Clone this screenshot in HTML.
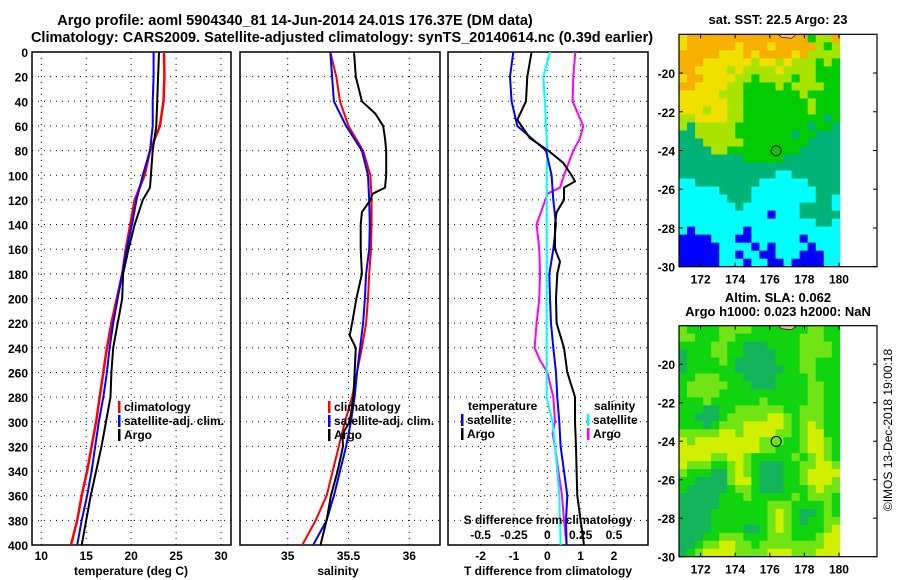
<!DOCTYPE html>
<html><head><meta charset="utf-8"><style>
html,body{margin:0;padding:0;background:#fff;}
svg{display:block;font-family:"Liberation Sans",sans-serif;}
.t{font-weight:bold;font-size:12px;fill:#000;}
.h{font-weight:bold;font-size:13px;fill:#000;}
.hh{font-weight:bold;font-size:14.5px;fill:#000;}
</style></head><body>
<svg id="fig" width="900" height="580" viewBox="0 0 900 580" xmlns="http://www.w3.org/2000/svg">
<text class="hh" x="295" y="25" text-anchor="middle">Argo profile: aoml 5904340_81 14-Jun-2014 24.01S 176.37E (DM data)</text>
<text class="hh" x="342" y="42" text-anchor="middle">Climatology: CARS2009. Satellite-adjusted climatology: synTS_20140614.nc (0.39d earlier)</text>
<text class="h" x="778" y="24" text-anchor="middle">sat. SST: 22.5 Argo: 23</text>
<text class="h" x="778" y="302" text-anchor="middle">Altim. SLA: 0.062</text>
<text class="h" x="778" y="316" text-anchor="middle">Argo h1000: 0.023 h2000: NaN</text>
<text x="892" y="430" font-size="12" text-anchor="middle" transform="rotate(-90 892 430)">©IMOS 13-Dec-2018 19:00:18</text>
<g id="g1"></g>
<g id="g2"></g>
<g id="g3"></g>
<g id="m1"></g>
<g id="m2"></g>
</svg>
<script>
// ---- data ----
const depths = [0,20,40,60,80,100,120,140,160,180,200,220,240,260,280,300,320,340,360,380,400];
const depthTicks = [0,20,40,60,80,100,120,140,160,180,200,220,240,260,280,300,320,340,360,380,400];
const tempTicks = [10,15,20,25,30];
const salTicks = [35,35.5,36];
const tdiffTicks = [-2,-1,0,1,2];
const sdiffTicks = [-0.5,-0.25,0,0.25,0.5];
const sdiffTickLabels = ["-0.5","-0.25","0","0.25","0.5"];

const tempClim = [23.66,23.7,23.6,23.2,22.1,21.5,20.4,19.9,19.4,19.0,18.4,17.8,17.3,16.9,16.5,16.1,15.6,15.1,14.5,14.0,13.3];
const tempSat  = [22.5,22.5,22.4,22.4,22.1,21.3,20.6,20.1,19.5,19.0,18.5,18.0,17.6,17.3,16.9,16.4,16.0,15.6,15.1,14.5,14.0];
const argoTempDepths = [0,20,40,60,80,100,110,120,140,160,180,200,220,240,260,280,300,320,340,360,380,400];
const tempArgo = [23.1,23.0,22.9,22.8,22.4,22.2,22.1,21.3,20.4,19.7,19.1,19.0,18.5,18.0,17.8,17.7,17.2,16.7,16.1,15.5,15.0,14.5];

const salClim = [35.35,35.40,35.43,35.50,35.62,35.68,35.69,35.69,35.685,35.67,35.66,35.645,35.61,35.57,35.53,35.47,35.42,35.37,35.32,35.23,35.12];
const salSat  = [35.35,35.365,35.38,35.48,35.61,35.66,35.67,35.675,35.67,35.645,35.635,35.62,35.595,35.57,35.55,35.52,35.48,35.43,35.38,35.32,35.21];
const argoSalDepths = [0,20,40,50,60,70,80,100,110,115,120,130,140,160,180,200,220,230,240,260,280,300,310,320,340,360,380,400];
const salArgo = [35.545,35.56,35.61,35.72,35.785,35.80,35.81,35.81,35.80,35.70,35.68,35.61,35.60,35.60,35.61,35.565,35.53,35.51,35.56,35.55,35.54,35.51,35.45,35.455,35.41,35.355,35.32,35.27];

const tdiffSat = [-1.02,-1.12,-1.07,-0.9,-0.04,0.13,0.18,0.26,0.18,0.06,0.08,0.11,0.18,0.26,0.3,0.36,0.4,0.5,0.6,0.56,0.58];
const argoTdDepths = [0,20,40,55,70,80,90,100,105,110,120,130,140,160,170,180,200,220,240,260,280,300,320,340,360,380,400];
const tdiffArgo = [-0.47,-0.6,-0.64,-0.9,-0.52,0.03,0.48,0.73,0.83,0.5,0.5,0.28,0.23,0.23,0.38,0.3,0.26,0.28,0.5,0.6,0.83,0.83,0.86,0.88,0.9,1.0,1.1];
const sdiffSat = [0.02,-0.03,-0.018,-0.01,0,-0.005,-0.005,-0.005,-0.005,-0.005,-0.005,-0.005,-0.005,-0.005,-0.005,0.04,0.058,0.075,0.09,0.095,0.1];
const argoSdDepths = [0,20,40,60,70,80,100,110,115,120,140,160,180,200,220,240,250,260,280,300,310,320,340,360,380,400];
const sdiffArgo = [0.21,0.195,0.19,0.27,0.245,0.195,0.125,0.095,0,-0.015,-0.08,-0.06,-0.055,-0.06,-0.08,-0.095,-0.055,0,0.045,0.058,0.04,0.058,0.083,0.11,0.125,0.145];

const latTicks = [-20,-22,-24,-26,-28,-30];
const lonTicks = [172,174,176,178,180];
const argoLon = 176.37, argoLat = -24.01;
const sstRows = [
"YOOOOOOOOOOOOOOOGLLO","YOOOOOOYOOOYOOOOOLGL","OOOOOYYYOYOOOOYOLLLL","OOOYYYYYYLYYLYLLLGLG",
"OOYYYYLYLLLLYLLLLGGG","YOOYYYYLLGLLLLGLLGGG","OOYYYYLLGGGGLGLLLLGG","YYYYYLLLGGGGGGGLGGGG",
"YYYYYYLLGGGGGGGGLGGG","YYYLYYLLGGGGGGGGLGGG","LLYYYYLLGGGGGGGGGGTG","LTLLLLLGGGGGGGGGTGGT",
"TTLLLLLGGGGGGGTGGTTT","TTTLLLLLGGGGGGGGTTTT","TTTTLLGGGGGGGGGTTTTT","TTTTTTTTGGGGGTTTTTTT",
"TTTTTTTTTTTTTTTTTTTT","TTTTTTTTTTTTCCTTTTTT","CCTTTTTTTTCCCCCCTTTT","CCCCCTTTTCCCCCCCCTTT",
"CCCCCCTTTCCCCCCCCTTC","CCCCCCCTCCCCCCCTTTTC","CCCCCCCCCCCBCCCTTTTT","CCCCCCCCCCCCCCCCCTTC",
"CBCCCCCCBCCCCCCCCCCC","BBBBCCCBBCCCCCCBCCCC","BBBBBCCCCBCBCCCCBCCC","BBBBBCCBCCBBCCCBBBCC",
"BBBBBCCCBCCBBCBBBBCC"];
const slaRows = [
"LGGGGLLLLGGGGGGGLLGG","LLGGGLLGGGGGGGGLLLGG","GGGGLLGGDDDGGGGLLLLG","DGGGLLGGDDDDGGGLLLLG",
"DGGGGLGDDDDDGGGLLGGG","DGGGGGGDDDDDDGGLLGGG","GGLLLGGGDDDDGGGGLGGG","GLLLLLGGGDDDGGGGLLGG",
"GLLLLGGGGGGGGGGGLLGG","GGGLGGGGGGLGGGGGLLGG","GGGDDGGLLLLLLGGLLLGG","GGDDDGLLLLLYYLGLLLGG",
"GGGDGLLLYYYYYLGLYLGG","LLLLLYYLYYYYLLGLYYGG","YLYYYYYYYYLLLGGLYYLG","YYYYYYYYYYLLGGGLYYLG",
"YYYYLLYYLGGGGGLGLYLG","YLLLGGLYLGDDDGGLLYYL","LGGGDDLYLGDDDGGLYYYY","GGDDDDLYYGDDDGGLYYYL",
"GDDDDDGLLGDDDGGGLYLL","DDDDDGGGLGGGGGLGLLLG","DDDDDGGGGGGLLLGGGGLG","DDDDGGGGGGGLYLGDDGLG",
"DDDDGGGGGGGLYLGDGGLL","DDDDGGGGDDGLYLGGGGLY","DDDGGLLLGGGLLLGGGLYY","DDGLLYYLLGLLLLLLLLYY",
"DGLYYYYLLLLYYYLLLYYY"];
</script>
<script>
const NS="http://www.w3.org/2000/svg";
function mk(p,tag,at){const e=document.createElementNS(NS,tag);for(const k in at)e.setAttribute(k,at[k]);p.appendChild(e);return e;}
const Y0=52,Y1=545;
function yD(d){return Y0+(d/400)*(Y1-Y0);}
function lin(d0,d1,r0,r1){return v=>r0+(v-d0)/(d1-d0)*(r1-r0);}

function frame(g,x0,x1,xt,xs,xlabels){
  mk(g,'rect',{x:x0,y:Y0,width:x1-x0,height:Y1-Y0,fill:'#fff',stroke:'none'});
  depthTicks.forEach(d=>{const l=mk(g,'line',{x1:x0,x2:x1,y1:yD(d),y2:yD(d),stroke:'#000','stroke-width':1,'stroke-dasharray':'1,5'});
    
    });
  xt.forEach((v,i)=>{const x=xs(v);const l=mk(g,'line',{x1:x,x2:x,y1:Y0,y2:Y1,stroke:'#000','stroke-width':1,'stroke-dasharray':'1,5'});
    
    
    const t=mk(g,'text',{x:x,y:560,'text-anchor':'middle',class:'t'});t.textContent=xlabels?xlabels[i]:String(v);
    
    });
  const r=mk(g,'rect',{x:x0,y:Y0,width:x1-x0,height:Y1-Y0,fill:'none',stroke:'#000','stroke-width':1.5});
  
  
}
function series(g,ds,vs,xs,color,w,name){
  const pts=ds.map((d,i)=>xs(vs[i]).toFixed(1)+','+yD(d).toFixed(1)).join(' ');
  const p=mk(g,'polyline',{points:pts,fill:'none',stroke:color,'stroke-width':w,'stroke-linejoin':'round'});
  
  
}
function txt(g,x,y,s,name,anchor){const t=mk(g,'text',{x:x,y:y,class:'t','text-anchor':anchor||'start'});t.textContent=s;
  
  return t;}
function legBar(g,x,y,color,name){const r=mk(g,'rect',{x:x,y:y-10,width:2.5,height:12,fill:color});
  
  }

// Panel 1
const g1=document.getElementById('g1');
const xT=lin(10,30,41.3,221);
frame(g1,32,231,tempTicks,xT);
depthTicks.forEach(d=>txt(g1,28,yD(d)+5,String(d),'y-tick-label','end'));
series(g1,depths,tempClim,xT,'#f00',2.5,'temp-climatology-line');
series(g1,depths,tempSat,xT,'#00f',2,'temp-satellite-line');
series(g1,argoTempDepths,tempArgo,xT,'#000',2,'temp-argo-line');
txt(g1,131,575,'temperature (deg C)','x-axis-title','middle');
[['climatology','#f00'],['satellite-adj. clim.','#00f'],['Argo','#000']].forEach((e,i)=>{legBar(g1,118,411+i*14,e[1],'legend-swatch');txt(g1,124,411+i*14,e[0],'legend-entry');});

// Panel 2
const g2=document.getElementById('g2');
const xS=lin(35,36,287.7,409.3);
frame(g2,240,440,salTicks,xS);
series(g2,depths,salClim,xS,'#f00',2,'sal-climatology-line');
series(g2,depths,salSat,xS,'#00f',2,'sal-satellite-line');
series(g2,argoSalDepths,salArgo,xS,'#000',2,'sal-argo-line');
txt(g2,338,575,'salinity','x-axis-title','middle');
[['climatology','#f00'],['satellite-adj. clim.','#00f'],['Argo','#000']].forEach((e,i)=>{legBar(g2,328,411+i*14,e[1],'legend-swatch');txt(g2,334,411+i*14,e[0],'legend-entry');});

// Panel 3
const g3=document.getElementById('g3');
const xTd=lin(-3,3,447.3,647.3);
const xSd=lin(-0.75,0.75,447.3,647.3);
frame(g3,448,648,tdiffTicks,xTd);
series(g3,argoSdDepths,sdiffArgo,xSd,'#f0f',2,'sdiff-argo-line');
series(g3,depths,sdiffSat,xSd,'#0ff',2,'sdiff-satellite-line');
series(g3,depths,tdiffSat,xTd,'#00f',2,'tdiff-satellite-line');
series(g3,argoTdDepths,tdiffArgo,xTd,'#000',2,'tdiff-argo-line');
txt(g3,548,575,'T difference from climatology','x-axis-title','middle');
txt(g3,548,524,'S difference from climatology','top-axis-title','middle');
sdiffTicks.forEach((v,i)=>txt(g3,xSd(v),539,sdiffTickLabels[i],'s-tick-label','middle'));
txt(g3,468,410,'temperature','legend-header');
legBar(g3,461,424,'#00f','legend-swatch');txt(g3,467,424,'satellite','legend-entry');
legBar(g3,461,438,'#000','legend-swatch');txt(g3,467,438,'Argo','legend-entry');
txt(g3,594,410,'salinity','legend-header');
legBar(g3,587,424,'#0ff','legend-swatch');txt(g3,593,424,'satellite','legend-entry');
legBar(g3,587,438,'#f0f','legend-swatch');txt(g3,593,438,'Argo','legend-entry');

// Maps
const sstCol={O:'#f8b000',Y:'#f0e000',L:'#a8e400',G:'#00cc00',T:'#00b478',C:'#00ffff',B:'#0000ff'};
const slaCol={D:'#14b45a',G:'#10d410',L:'#70e414',Y:'#d0f000'};
function map(id,top,bot,rows,cols,name){
  const g=document.getElementById(id);
  const L=679,R=877,lonX=lin(170.75,182.2,L,R),latY=lin(-18,-30,top,bot);
  mk(g,'rect',{x:L,y:top,width:R-L,height:bot-top,fill:'#fff'});
  const xe=lonX(180.05);const nr=rows.length,nc=rows[0].length;
  const cw=(xe-L)/nc,ch=(bot-top)/nr;
  rows.forEach((row,r)=>{for(let c=0;c<nc;c++){const el=mk(g,'rect',{x:(L+c*cw).toFixed(2),y:(top+r*ch).toFixed(2),width:(cw+0.4).toFixed(2),height:(ch+0.4).toFixed(2),fill:cols[row[c]]});
    
    }});
  const land=mk(g,'path',{d:`M${lonX(176.5)} ${top} l3 3 l10 1 l5 -4 z`,fill:'#f4b898',stroke:'#000','stroke-width':0.6});
  
  
  const f=mk(g,'rect',{x:L,y:top,width:R-L,height:bot-top,fill:'none',stroke:'#000','stroke-width':1.2});
  
  
  latTicks.forEach(v=>{const y=latY(v);mk(g,'line',{x1:L,x2:L+4,y1:y,y2:y,stroke:'#000'});mk(g,'line',{x1:R,x2:R-4,y1:y,y2:y,stroke:'#000'});
    txt(g,675,y+5,String(v),'lat-tick-label','end');});
  lonTicks.forEach(v=>{const x=lonX(v);mk(g,'line',{x1:x,x2:x,y1:bot,y2:bot-4,stroke:'#000'});mk(g,'line',{x1:x,x2:x,y1:top,y2:top+4,stroke:'#000'});
    txt(g,x,bot+17,String(v),'lon-tick-label','middle');});
  const c=mk(g,'circle',{cx:lonX(argoLon),cy:latY(argoLat),r:5,fill:'none',stroke:'#000','stroke-width':1});
  
  
}
map('m1',34.3,266.7,sstRows,sstCol,'sst');
map('m2',325.7,556.7,slaRows,slaCol,'sla');
</script>
</body></html>
